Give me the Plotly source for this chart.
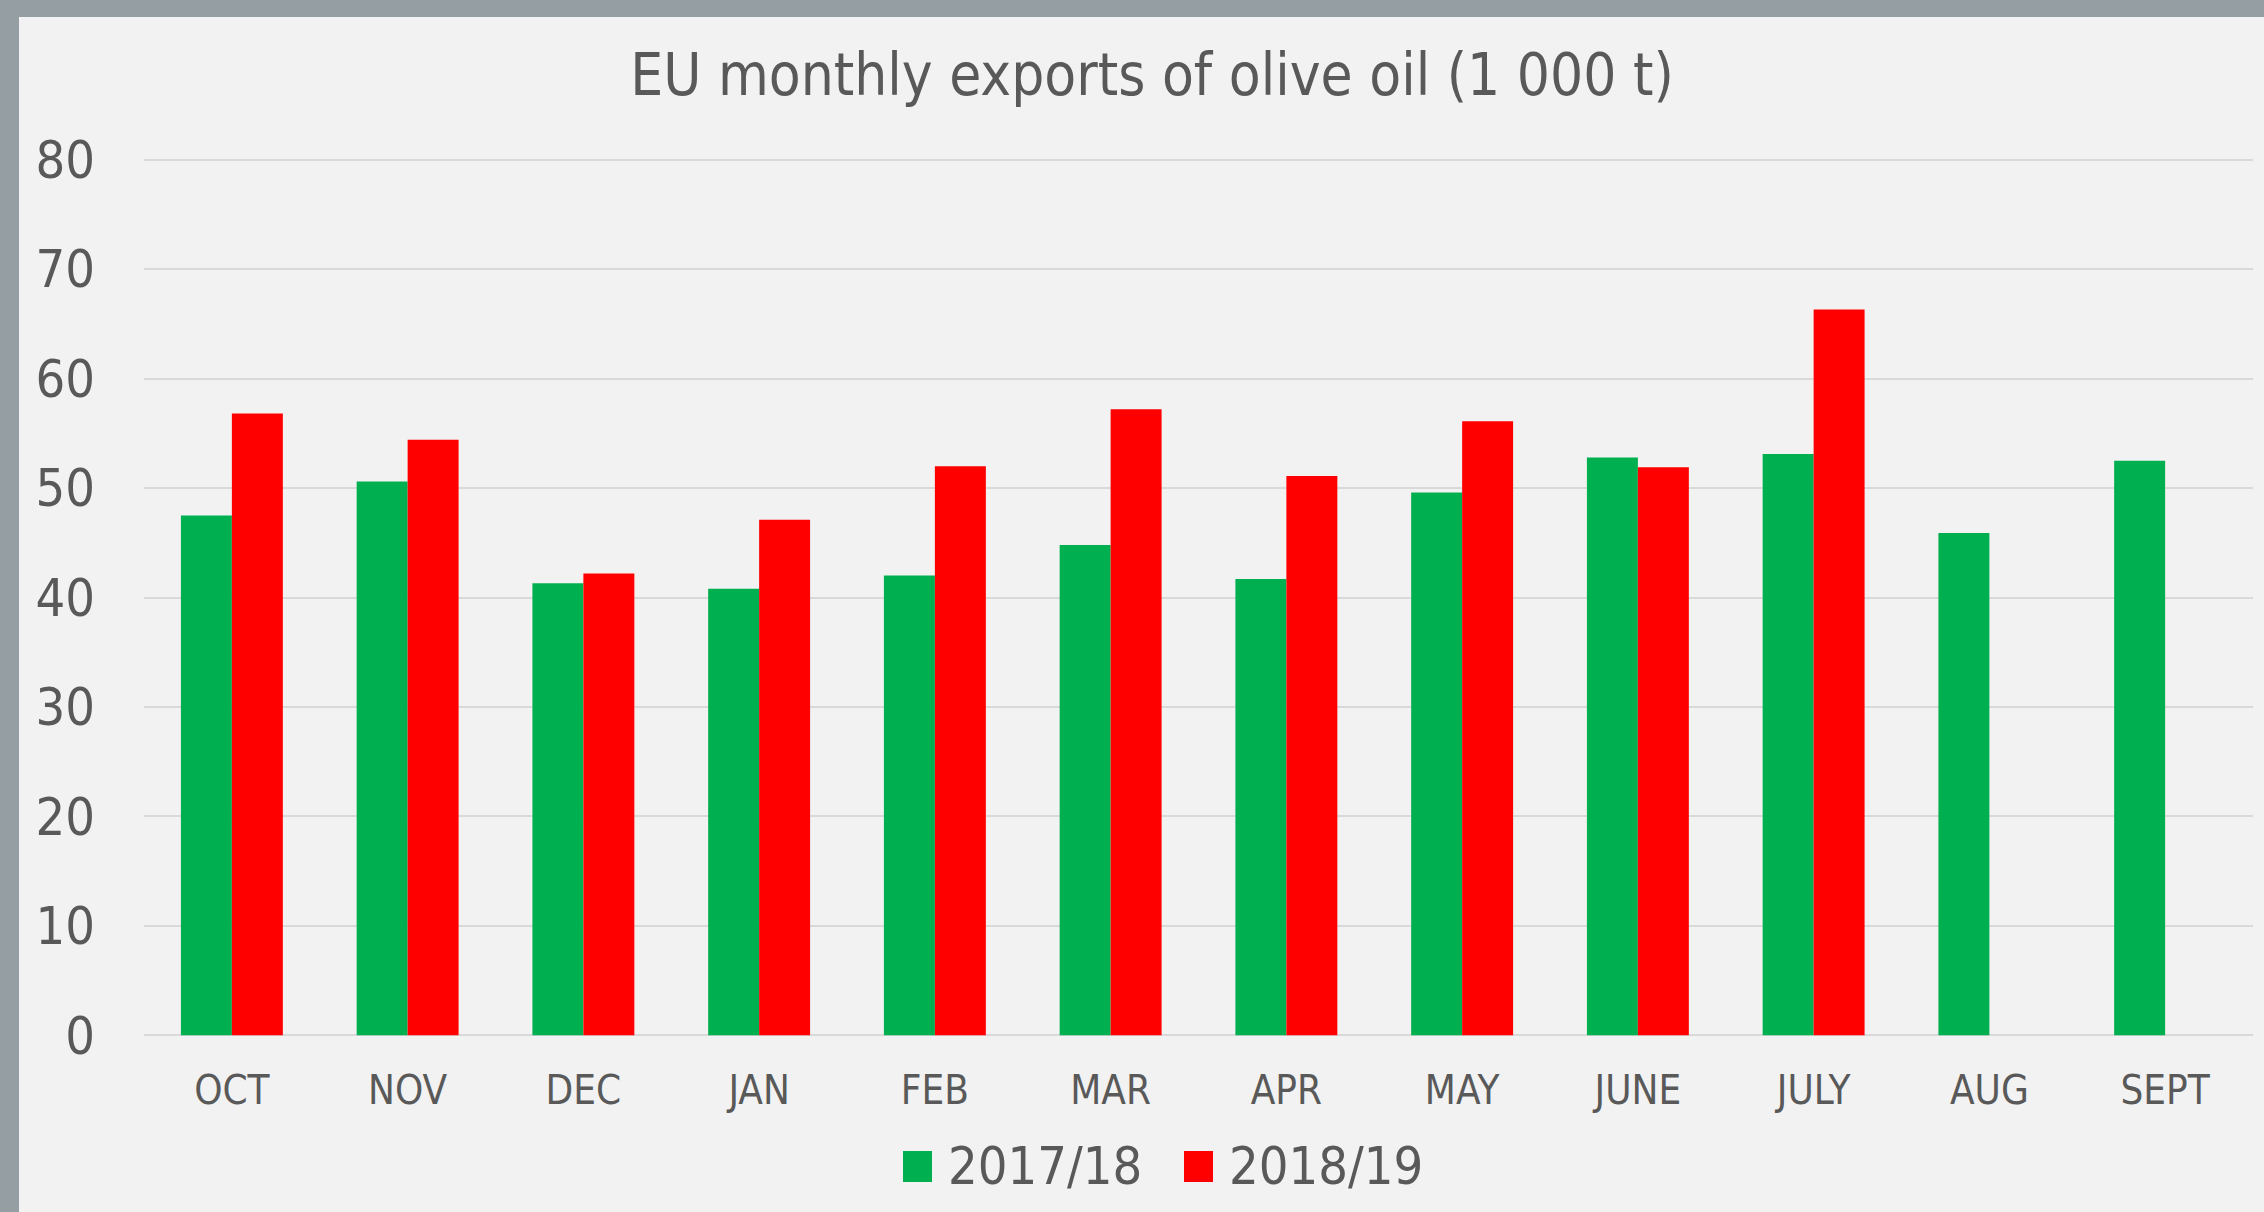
import plotly.graph_objects as go

# Monthly EU olive oil exports, thousand tonnes
months = ["OCT", "NOV", "DEC", "JAN", "FEB", "MAR", "APR", "MAY", "JUNE", "JULY", "AUG", "SEPT"]
exports_2017_18 = [47.5, 50.6, 41.3, 40.8, 42.0, 44.8, 41.7, 49.6, 52.8, 53.1, 45.9, 52.5]
exports_2018_19 = [56.8, 54.4, 42.2, 47.1, 52.0, 57.2, 51.1, 56.1, 51.9, 66.3, None, None]
series_names = ["2017/18", "2018/19"]
y_ticks = [0, 10, 20, 30, 40, 50, 60, 70, 80]

GREEN = "#00b050"
RED = "#ff0000"
TEXT = "#595959"
BG = "#f2f2f2"
FRAME = "#959ea3"
FONT = "Liberation Sans Narrow, DejaVu Sans Condensed, Arial Narrow, sans-serif"

W, H = 2264, 1212
# y range padded slightly so the 0 and 80 gridlines are drawn inside the plot
Y_LO, Y_HI = -0.15, 80.15
unit = 875 / 80
L, R = 144, 11
T = round(160 - (Y_HI - 80) * unit)
B = round(H - 1035 - (0 - Y_LO) * unit)
pw, ph = W - L - R, H - T - B


def px_x(x):
    return (x - L) / pw


def px_y(y):
    return (H - B - y) / ph


fig = go.Figure()
fig.add_trace(go.Bar(x=months, y=exports_2017_18, name=series_names[0],
                     marker=dict(color=GREEN, line=dict(width=0))))
fig.add_trace(go.Bar(x=months, y=exports_2018_19, name=series_names[1],
                     marker=dict(color=RED, line=dict(width=0))))

shapes = [
    # grey frame along the top and left edges
    dict(type="rect", xref="paper", yref="paper", layer="above",
         x0=px_x(0), x1=px_x(W), y0=px_y(17), y1=px_y(0),
         fillcolor=FRAME, line=dict(width=0)),
    dict(type="rect", xref="paper", yref="paper", layer="above",
         x0=px_x(0), x1=px_x(19), y0=px_y(H), y1=px_y(0),
         fillcolor=FRAME, line=dict(width=0)),
]

# legend drawn as swatches + labels below the axis
annotations = []
legend_items = [(series_names[0], GREEN, 903, 946), (series_names[1], RED, 1184, 1227)]
for name, color, sx, tx in legend_items:
    shapes.append(dict(type="rect", xref="paper", yref="paper",
                       x0=px_x(sx), x1=px_x(sx + 29), y0=px_y(1182), y1=px_y(1151),
                       fillcolor=color, line=dict(width=0)))
    annotations.append(dict(text=name, xref="paper", yref="paper",
                            x=px_x(tx), y=px_y(1166), xanchor="left", yanchor="middle",
                            showarrow=False, font=dict(family=FONT, size=52, color=TEXT)))

fig.update_layout(
    width=W, height=H,
    margin=dict(l=L, r=R, t=T, b=B, autoexpand=False),
    paper_bgcolor=BG, plot_bgcolor=BG,
    barmode="group", bargap=0.42, bargroupgap=0,
    showlegend=False,
    title=dict(text="EU monthly exports of olive oil (1 000 t)",
               x=1152 / W, xref="container", xanchor="center",
               y=1 - 75 / H, yref="container", yanchor="middle",
               font=dict(family=FONT, size=58, color=TEXT)),
    xaxis=dict(showgrid=False, showline=False, zeroline=False, ticks="",
               tickfont=dict(family=FONT, size=40, color=TEXT),
               ticklabelstandoff=26),
    yaxis=dict(range=[Y_LO, Y_HI], tickvals=y_ticks, showgrid=True, gridcolor="#d9d9d9",
               gridwidth=2, zeroline=False, showline=False, ticks="",
               tickfont=dict(family=FONT, size=52, color=TEXT),
               ticklabelstandoff=48),
    shapes=shapes,
    annotations=annotations,
)

fig.write_html("out.html")
